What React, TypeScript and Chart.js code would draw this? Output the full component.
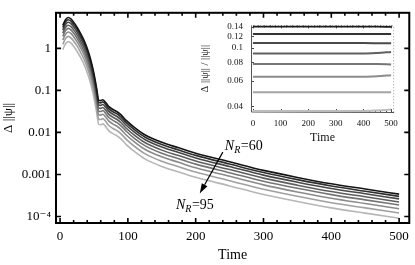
import React, { useEffect, useRef } from "react";
import { Chart, registerables } from "chart.js";
Chart.register(...registerables);

const FONT = '"Liberation Serif", "DejaVu Serif", serif';

// ---- main panel data ----
const times = [4, 8, 12, 16, 20, 25, 30, 35, 40, 45, 50, 54, 57, 60, 63, 67, 72, 78, 84, 90, 98, 110, 125, 150, 175, 200, 250, 300, 350, 400, 450, 500];
const nr60 = [3.5, 4.8, 5.4, 5.0, 4.2, 3.2, 2.3, 1.6, 1.0, 0.55, 0.25, 0.11, 0.058, 0.057, 0.06, 0.052, 0.041, 0.035, 0.031, 0.026, 0.019, 0.013, 0.0088, 0.0058, 0.0043, 0.0032, 0.002, 0.00125, 0.00085, 0.0006, 0.00045, 0.00034];
const nr65 = [3.1, 4.25, 4.78, 4.43, 3.72, 2.84, 2.04, 1.42, 0.886, 0.487, 0.222, 0.0975, 0.0514, 0.0505, 0.0532, 0.0461, 0.0363, 0.031, 0.0275, 0.023, 0.0168, 0.0115, 0.0078, 0.00514, 0.00381, 0.00284, 0.00177, 0.00111, 0.000753, 0.000532, 0.000399, 0.000301];
const nr70 = [2.7, 3.7, 4.16, 3.86, 3.24, 2.47, 1.77, 1.23, 0.771, 0.424, 0.193, 0.0848, 0.0447, 0.0439, 0.0463, 0.0401, 0.0316, 0.027, 0.0239, 0.02, 0.0146, 0.01, 0.00678, 0.00447, 0.00332, 0.00247, 0.00154, 0.000964, 0.000655, 0.000463, 0.000347, 0.000262];
const nr75 = [2.29, 3.14, 3.53, 3.27, 2.75, 2.09, 1.5, 1.05, 0.654, 0.36, 0.164, 0.0719, 0.0379, 0.0373, 0.0392, 0.034, 0.0268, 0.0229, 0.0203, 0.017, 0.0124, 0.0085, 0.00576, 0.00379, 0.00281, 0.00209, 0.00131, 0.000818, 0.000556, 0.000392, 0.000294, 0.000222];
const nr80 = [1.93, 2.64, 2.98, 2.76, 2.31, 1.76, 1.27, 0.882, 0.551, 0.303, 0.138, 0.0606, 0.032, 0.0314, 0.0331, 0.0287, 0.0226, 0.0193, 0.0171, 0.0143, 0.0105, 0.00716, 0.00485, 0.0032, 0.00237, 0.00176, 0.0011, 0.000689, 0.000468, 0.000331, 0.000248, 0.000187];
const nr85 = [1.58, 2.16, 2.44, 2.26, 1.89, 1.44, 1.04, 0.722, 0.451, 0.248, 0.113, 0.0496, 0.0262, 0.0257, 0.0271, 0.0235, 0.0185, 0.0158, 0.014, 0.0117, 0.00857, 0.00586, 0.00397, 0.00262, 0.00194, 0.00144, 0.000902, 0.000564, 0.000383, 0.000271, 0.000203, 0.000153];
const nr90 = [1.24, 1.7, 1.92, 1.78, 1.49, 1.14, 0.817, 0.568, 0.355, 0.195, 0.0888, 0.0391, 0.0206, 0.0202, 0.0213, 0.0185, 0.0146, 0.0124, 0.011, 0.00923, 0.00675, 0.00462, 0.00312, 0.00206, 0.00153, 0.00114, 0.00071, 0.000444, 0.000302, 0.000213, 0.00016, 0.000121];
const nr95 = [0.935, 1.28, 1.44, 1.34, 1.12, 0.854, 0.614, 0.427, 0.267, 0.147, 0.0668, 0.0294, 0.0155, 0.0152, 0.016, 0.0139, 0.0109, 0.00935, 0.00828, 0.00694, 0.00507, 0.00347, 0.00235, 0.00155, 0.00115, 0.000854, 0.000534, 0.000334, 0.000227, 0.00016, 0.00012, 0.0000908];
const mainSeries = [nr60, nr65, nr70, nr75, nr80, nr85, nr90, nr95];
const seriesColors = ["#141414", "#2f2f2f", "#474747", "#5e5e5e", "#747474", "#8a8a8a", "#a0a0a0", "#b6b6b6"];

const xTicks = [0, 100, 200, 300, 400, 500];
const yTicks = [1e-4, 1e-3, 1e-2, 0.1, 1];
const yTickLabels = ["10\u207B\u2074", "0.001", "0.01", "0.1", "1"];

// annotation (data coordinates)
const arrowFrom = [240, 0.0034];
const arrowTo = [206, 0.000353];
const labelTop = [243, 0.0049];
const labelBottom = [171, 0.000198];
const labelTopValue = "60";
const labelBottomValue = "95";

// ---- inset data ----
const insetTimes = [0, 100, 200, 300, 400, 450, 500];
const inset60 = [0.14, 0.14, 0.14, 0.14, 0.14, 0.14, 0.1395];
const inset65 = [0.1245, 0.1245, 0.1245, 0.1245, 0.1245, 0.1245, 0.1245];
const inset70 = [0.108, 0.108, 0.108, 0.108, 0.108, 0.1078, 0.1075];
const inset75 = [0.0917, 0.0917, 0.0917, 0.0917, 0.0917, 0.0925, 0.094];
const inset80 = [0.0776, 0.0776, 0.0776, 0.0776, 0.0776, 0.0776, 0.0772];
const inset85 = [0.0637, 0.0637, 0.0637, 0.0637, 0.0637, 0.0642, 0.0652];
const inset90 = [0.0499, 0.0499, 0.0499, 0.0499, 0.0499, 0.0499, 0.0499];
const inset95 = [0.0372, 0.0372, 0.0372, 0.0372, 0.0372, 0.0375, 0.038];
const insetSeries = [inset60, inset65, inset70, inset75, inset80, inset85, inset90, inset95];
const insetColors = ["#1c1c1c", "#333333", "#4a4a4a", "#5f5f5f", "#767676", "#8c8c8c", "#a4a4a4", "#bcbcbc"];
const insetXTicks = [0, 100, 200, 300, 400, 500];
const insetYTicks = [0.04, 0.06, 0.08, 0.1, 0.12, 0.14];
const insetYTickLabels = ["0.04", "0.06", "0.08", "0.1", "0.12", "0.14"];

function lookupLabel(values: number[], labels: string[], v: number) {
  for (let i = 0; i < values.length; i++) {
    if (Math.abs(values[i] - v) <= Math.abs(values[i]) * 1e-6) return labels[i];
  }
  return "";
}

const mainFramePlugin = {
  id: "mainFrame",
  afterDatasetsDraw(chart: any) {
    const { ctx, chartArea, scales } = chart;
    const { left, right, top, bottom } = chartArea;
    const x = scales.x, y = scales.y;
    ctx.save();
    ctx.strokeStyle = "#000";
    ctx.lineWidth = 1.6;
    for (let v = 0; v <= 500.001; v += 20) {
      const px = x.getPixelForValue(v);
      const major = Math.abs(v % 100) < 1e-6;
      const len = major ? 5 : 3;
      ctx.beginPath();
      ctx.moveTo(px, bottom);
      ctx.lineTo(px, bottom - len);
      ctx.moveTo(px, top);
      ctx.lineTo(px, top + len);
      ctx.stroke();
    }
    for (const t of yTicks) {
      const py = y.getPixelForValue(t);
      ctx.beginPath();
      ctx.moveTo(left, py);
      ctx.lineTo(left + 5, py);
      ctx.moveTo(right, py);
      ctx.lineTo(right - 5, py);
      ctx.stroke();
    }
    ctx.lineWidth = 2;
    ctx.strokeRect(left, top, right - left, bottom - top);

    // annotation arrow
    const x1 = x.getPixelForValue(arrowFrom[0]);
    const y1 = y.getPixelForValue(arrowFrom[1]);
    const x2 = x.getPixelForValue(arrowTo[0]);
    const y2 = y.getPixelForValue(arrowTo[1]);
    const ang = Math.atan2(y2 - y1, x2 - x1);
    const headLen = 10, headW = 3.2;
    const bx = x2 - headLen * Math.cos(ang), by = y2 - headLen * Math.sin(ang);
    ctx.lineWidth = 1.2;
    ctx.beginPath();
    ctx.moveTo(x1, y1);
    ctx.lineTo(bx, by);
    ctx.stroke();
    ctx.fillStyle = "#000";
    ctx.beginPath();
    ctx.moveTo(x2, y2);
    ctx.lineTo(bx + headW * Math.sin(ang), by - headW * Math.cos(ang));
    ctx.lineTo(bx - headW * Math.sin(ang), by + headW * Math.cos(ang));
    ctx.closePath();
    ctx.fill();

    const drawNR = (px: number, py: number, value: string) => {
      ctx.textBaseline = "alphabetic";
      ctx.textAlign = "left";
      const base = py + 5;
      ctx.font = `italic 14px ${FONT}`;
      ctx.fillText("N", px, base);
      let w = ctx.measureText("N").width;
      ctx.font = `italic 10px ${FONT}`;
      ctx.fillText("R", px + w, base + 3);
      w += ctx.measureText("R").width + 0.5;
      ctx.font = `14px ${FONT}`;
      ctx.fillText("=" + value, px + w, base);
    };
    drawNR(x.getPixelForValue(labelTop[0]), y.getPixelForValue(labelTop[1]), labelTopValue);
    drawNR(x.getPixelForValue(labelBottom[0]), y.getPixelForValue(labelBottom[1]), labelBottomValue);
    ctx.restore();
  },
};

const insetFramePlugin = {
  id: "insetFrame",
  beforeDatasetsDraw(chart: any) {
    const { ctx, chartArea, scales } = chart;
    const { left, right, top, bottom } = chartArea;
    const x = scales.x, y = scales.y;
    ctx.save();
    ctx.strokeStyle = "#444";
    ctx.lineWidth = 1;
    for (let v = 0; v <= 500.001; v += 20) {
      const px = Math.round(x.getPixelForValue(v)) + 0.5;
      const major = Math.abs(v % 100) < 1e-6;
      const len = major ? 3 : 2;
      ctx.beginPath();
      ctx.moveTo(px, bottom);
      ctx.lineTo(px, bottom - len);
      ctx.moveTo(px, top);
      ctx.lineTo(px, top + len);
      ctx.stroke();
    }
    for (const t of insetYTicks) {
      const py = Math.round(y.getPixelForValue(t)) + 0.5;
      ctx.beginPath();
      ctx.moveTo(left, py);
      ctx.lineTo(left + 3, py);
      ctx.stroke();
    }
    ctx.strokeStyle = "#555";
    ctx.beginPath();
    ctx.moveTo(left + 0.5, top);
    ctx.lineTo(left + 0.5, bottom);
    ctx.lineTo(right, bottom + 0.5);
    ctx.stroke();
    ctx.strokeStyle = "#999";
    ctx.setLineDash([1, 2]);
    ctx.beginPath();
    ctx.moveTo(left, top + 0.5);
    ctx.lineTo(right - 0.5, top + 0.5);
    ctx.lineTo(right - 0.5, bottom);
    ctx.stroke();
    ctx.restore();
  },
};

export default function App() {
  const mainRef = useRef<HTMLCanvasElement | null>(null);
  const insetRef = useRef<HTMLCanvasElement | null>(null);

  useEffect(() => {
    if (!mainRef.current || !insetRef.current) return;
    const main = new Chart(mainRef.current, {
      type: "line",
      data: {
        datasets: mainSeries.map((s, i) => ({
          data: times.map((t, k) => ({ x: t, y: s[k] })),
          borderColor: seriesColors[i],
          borderWidth: 1.6,
          pointRadius: 0,
          fill: false,
          cubicInterpolationMode: "monotone" as const,
        })),
      },
      options: {
        animation: false,
        responsive: false,
        devicePixelRatio: 1,
        layout: { padding: { left: 0, right: 5, top: 5, bottom: 0 } },
        plugins: { legend: { display: false }, tooltip: { enabled: false } },
        scales: {
          x: {
            type: "linear",
            min: -6,
            max: 515,
            afterBuildTicks: (s: any) => {
              s.ticks = xTicks.map((v) => ({ value: v }));
            },
            afterFit: (s: any) => {
              s.height = 42;
            },
            grid: { display: false, drawTicks: false },
            border: { display: false },
            ticks: {
              padding: 6,
              autoSkip: false,
              maxRotation: 0,
              color: "#000",
              font: { family: FONT, size: 13 },
              callback: (v: any) => String(v),
            },
            title: {
              display: true,
              text: "Time",
              color: "#000",
              font: { family: FONT, size: 14 },
              padding: { top: 0, bottom: 1 },
            },
          },
          y: {
            type: "logarithmic",
            min: 7.3e-5,
            max: 7.0,
            afterBuildTicks: (s: any) => {
              s.ticks = yTicks.map((v) => ({ value: v }));
            },
            afterFit: (s: any) => {
              s.width = 56;
            },
            grid: { display: false, drawTicks: false },
            border: { display: false },
            ticks: {
              padding: 5,
              autoSkip: false,
              color: "#000",
              font: { family: FONT, size: 13 },
              callback: (v: any) => lookupLabel(yTicks, yTickLabels, Number(v)),
            },
            title: {
              display: true,
              text: "\u0394 ||\u03C8||",
              color: "#000",
              font: { family: FONT, size: 13 },
              padding: { top: 1, bottom: 0 },
            },
          },
        },
      },
      plugins: [mainFramePlugin],
    } as any);

    const inset = new Chart(insetRef.current, {
      type: "line",
      data: {
        datasets: insetSeries.map((s, i) => ({
          data: insetTimes.map((t, k) => ({ x: t, y: s[k] })),
          borderColor: insetColors[i],
          borderWidth: 2,
          pointRadius: 0,
          fill: false,
          cubicInterpolationMode: "monotone" as const,
        })),
      },
      options: {
        animation: false,
        responsive: false,
        devicePixelRatio: 1,
        layout: { padding: { left: 0, right: 7, top: 10, bottom: 0 } },
        plugins: { legend: { display: false }, tooltip: { enabled: false } },
        scales: {
          x: {
            type: "linear",
            min: -7,
            max: 511,
            afterBuildTicks: (s: any) => {
              s.ticks = insetXTicks.map((v) => ({ value: v }));
            },
            afterFit: (s: any) => {
              s.height = 36;
            },
            grid: { display: false, drawTicks: false },
            border: { display: false },
            ticks: {
              padding: 6,
              autoSkip: false,
              maxRotation: 0,
              color: "#111",
              font: { family: FONT, size: 9 },
              callback: (v: any) => String(v),
            },
            title: {
              display: true,
              text: "Time",
              color: "#111",
              font: { family: FONT, size: 12 },
              padding: { top: 0, bottom: 3 },
            },
          },
          y: {
            type: "logarithmic",
            min: 0.0366,
            max: 0.1425,
            afterBuildTicks: (s: any) => {
              s.ticks = insetYTicks.map((v) => ({ value: v }));
            },
            afterFit: (s: any) => {
              s.width = 55;
            },
            grid: { display: false, drawTicks: false },
            border: { display: false },
            ticks: {
              padding: 8,
              autoSkip: false,
              color: "#111",
              font: { family: FONT, size: 9 },
              callback: (v: any) => lookupLabel(insetYTicks, insetYTickLabels, Number(v)),
            },
            title: {
              display: true,
              text: "\u0394 ||\u03C8|| / ||\u03C8||",
              color: "#111",
              font: { family: FONT, size: 10.5 },
              padding: { top: 3, bottom: 0 },
            },
          },
        },
      },
      plugins: [insetFramePlugin],
    } as any);

    return () => {
      main.destroy();
      inset.destroy();
    };
  }, []);

  return (
    <div style={{ position: "fixed", left: 0, top: 0, width: 415, height: 265, background: "#fff" }}>
      <canvas ref={mainRef} width={415} height={265} style={{ position: "absolute", left: 0, top: 0, width: 415, height: 265 }} />
      <canvas ref={insetRef} width={208} height={136} style={{ position: "absolute", left: 196, top: 12, width: 208, height: 136 }} />
    </div>
  );
}
